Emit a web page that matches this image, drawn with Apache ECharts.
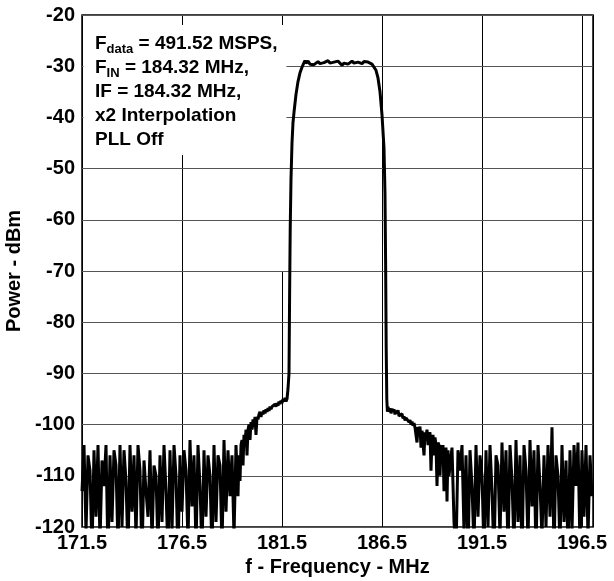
<!DOCTYPE html>
<html>
<head>
<meta charset="utf-8">
<script src="https://cdn.jsdelivr.net/npm/echarts@6/dist/echarts.min.js"></script>
<style>
    html, body { margin: 0; padding: 0; background: #fff; }
    #chart { width: 614px; height: 581px; }
</style>
</head>
<body>
<div id="chart"></div>
<script>
// 频谱数据 (MHz / dBm)，按段落读取

// 左侧噪声底，171.5 起，步长 0.1 MHz
const noiseLowStart = 171.5;
const noiseLowStep = 0.1;
const noiseLow = [
    -113, -104, -121, -106, -109, -125, -105, -118, -104, -123,
    -107, -112, -104, -126, -106, -119, -105, -108, -124, -104,
    -120, -105, -111, -125, -104, -117, -106, -122, -104, -109,
    -126, -107, -113, -118, -105, -123, -108, -110, -124, -106,
    -119, -104, -113, -125, -105, -121, -104, -110, -126, -106,
    -117, -105, -109, -123, -103, -116, -106, -124, -104, -112,
    -125, -105, -118, -106, -110, -125, -104, -119, -106, -108,
    -124, -103, -117, -105, -114, -106, -122, -104, -114
];

// 左侧过渡带，179.35 起，步长 0.05 MHz
const shoulderLowStart = 179.35;
const shoulderLowStep = 0.05;
const shoulderLow = [
    -106, -111, -104, -103, -108, -102, -104, -101, -106, -101,
    -100, -103, -99.5, -101, -99, -100.5, -98.5, -102, -98.5, -99,
    -98, -97.5, -98.5, -97.5, -98, -97.2, -97.8, -97, -97.5, -96.8,
    -97.3, -96.5, -97, -96.5, -96.2, -96.8, -96, -96.5, -95.8, -96.3,
    -95.5, -96, -95.3, -95.8, -95, -95.5, -94.8, -95.5, -95
];

// 上升沿
const riseFreq = [181.8, 181.85, 181.88, 181.91, 181.95, 182.0, 182.05, 182.1, 182.2, 182.3, 182.4, 182.5, 182.6, 182.65];
const risePower = [-93, -90, -75, -62, -52, -45, -41, -39, -35.5, -33, -31.3, -30.2, -29.3, -28.9];

// 通带，182.7 起，步长 0.1 MHz
const passStart = 182.7;
const passStep = 0.1;
const passBand = [
    -29.4, -29.0, -29.6, -29.3, -29.7, -29.4, -29.1, -29.5, -29.8, -29.3,
    -29.0, -28.9, -29.4, -29.7, -29.2, -29.5, -29.0, -29.3, -29.8, -29.4,
    -29.1, -29.6, -29.3, -29.0, -29.4, -29.6, -29.2, -29.3, -29.5, -29.1,
    -29.4, -29.2, -29.5, -29.6
];

// 下降沿
const fallFreq = [186.1, 186.2, 186.3, 186.4, 186.5, 186.6, 186.65, 186.68, 186.71, 186.74, 186.77];
const fallPower = [-29.9, -30.8, -32.3, -35, -39.5, -46, -55, -68, -85, -95, -97.5];

// 右侧过渡带，186.8 起，步长 0.05 MHz
const shoulderHighStart = 186.8;
const shoulderHighStep = 0.05;
const shoulderHigh = [
    -96.5, -97.5, -96.8, -97.8, -96.9, -97.5, -97, -98, -97.3, -97.8,
    -97.2, -98.3, -98, -98.6, -97.9, -98.8, -98.4, -99.2, -98.7, -99,
    -98.5, -99.5, -99.1, -100, -99.4, -100.2, -99.7, -100.6, -100.3, -103.5,
    -100.5, -101, -100.4, -104.5, -101.2, -101.5, -106, -101.5, -102.5, -101,
    -104, -102, -101.5, -109, -103, -102, -106, -102.5, -104, -112,
    -103.5, -104, -110, -104, -107, -104, -113, -106, -104.5, -115,
    -105, -110
];

// 右侧噪声底，189.9 起，步长 0.1 MHz
const noiseHighStart = 189.9;
const noiseHighStep = 0.1;
const noiseHigh = [
    -108, -104.5, -119, -125, -105, -109, -104, -121, -106, -126,
    -105, -112, -124, -104, -118, -106, -110, -125, -105, -120,
    -104, -113, -126, -106, -108, -122, -103.5, -117, -105, -125,
    -104, -111, -124, -103, -119, -106, -126, -104, -109, -123,
    -103, -116, -105, -125, -104, -112, -122, -106, -120, -104,
    -118, -100.5, -125, -106, -110, -124, -104, -119, -107, -125,
    -105, -121, -104, -112, -103.5, -124, -105, -118, -104, -122,
    -106, -114
];

// 坐标轴
const xMin = 171.5;
const xMax = 197.05;
const xStep = 5;
const yMin = -120;
const yMax = -20;
const yStep = 10;

// 注释文字
const noteLines = [
    '{b|F}{s|data}{b| = 491.52 MSPS,}',
    '{b|F}{s|IN}{b| = 184.32 MHz,}',
    '{b|IF = 184.32 MHz,}',
    '{b|x2 Interpolation}',
    '{b|PLL Off}'
];

function uniformSegment(start, step, values) {
    return values.map((v, i) => [+(start + i * step).toFixed(3), v]);
}

function pairSegment(freqs, values) {
    return freqs.map((f, i) => [f, values[i]]);
}

const trace = [].concat(
    uniformSegment(noiseLowStart, noiseLowStep, noiseLow),
    uniformSegment(shoulderLowStart, shoulderLowStep, shoulderLow),
    pairSegment(riseFreq, risePower),
    uniformSegment(passStart, passStep, passBand),
    pairSegment(fallFreq, fallPower),
    uniformSegment(shoulderHighStart, shoulderHighStep, shoulderHigh),
    uniformSegment(noiseHighStart, noiseHighStep, noiseHigh)
);

const font = "'Liberation Sans', Arial, sans-serif";
const chart = echarts.init(document.getElementById('chart'));

const labelStyle = {
    color: '#000',
    fontSize: 20,
    fontWeight: 'bold',
    fontFamily: font
};

const option = {
    animation: false,
    backgroundColor: '#fff',
    grid: {
        left: 82,
        right: 21,
        top: 15,
        bottom: 54,
        outerBoundsMode: 'none',
        show: true,
        borderColor: '#000',
        borderWidth: 1.5
    },
    xAxis: {
        type: 'value',
        z: 0,
        min: xMin,
        max: xMax,
        interval: xStep,
        name: 'f - Frequency - MHz',
        nameLocation: 'middle',
        nameGap: 30,
        nameTextStyle: labelStyle,
        axisLine: { show: false },
        axisTick: { show: false },
        splitLine: { lineStyle: { color: '#000', width: 1 } },
        axisLabel: Object.assign({}, labelStyle, {
            margin: 6,
            showMaxLabel: false,
            formatter: v => (Math.abs((v - xMin) % xStep) < 1e-6 ? v.toFixed(1) : '')
        })
    },
    yAxis: {
        type: 'value',
        z: 1.5,
        min: yMin,
        max: yMax,
        interval: yStep,
        name: 'Power - dBm',
        nameLocation: 'middle',
        nameGap: 53,
        nameTextStyle: labelStyle,
        axisLine: { show: false },
        axisTick: { show: false },
        splitLine: { lineStyle: { color: '#555', width: 1.2 } },
        axisLabel: Object.assign({}, labelStyle, { margin: 7 })
    },
    graphic: [
        // 181.5 竖线上半段在原图中缺失
        {
            type: 'rect',
            z: 1,
            shape: { x: 279.5, y: 150, width: 5, height: 122 },
            style: { fill: '#fff' }
        },
        // 注释底框
        {
            type: 'rect',
            z: 1.8,
            shape: { x: 83.5, y: 25, width: 203, height: 130 },
            style: { fill: '#fff' }
        },
        {
            type: 'text',
            z: 3,
            left: 95,
            top: 34,
            style: {
                text: noteLines.join('\n'),
                fill: '#000',
                font: 'bold 19px ' + font,
                rich: {
                    b: { fontSize: 19, fontWeight: 'bold', fontFamily: font, lineHeight: 24, fill: '#000' },
                    s: { fontSize: 13, fontWeight: 'bold', fontFamily: font, lineHeight: 12, verticalAlign: 'bottom', fill: '#000' }
                }
            }
        }
    ],
    series: [
        {
            type: 'line',
            data: trace,
            symbol: 'none',
            clip: true,
            lineStyle: { color: '#000', width: 3 },
            z: 2
        }
    ]
};

chart.setOption(option);
</script>
</body>
</html>
